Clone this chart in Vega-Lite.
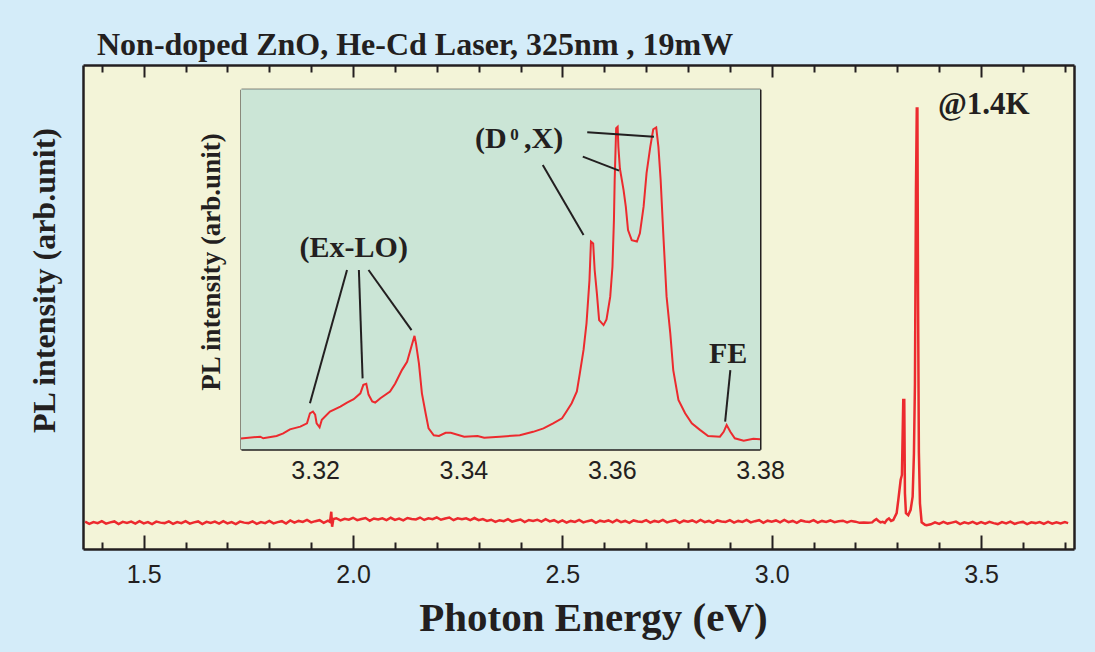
{
  "$schema": "https://vega.github.io/schema/vega-lite/v6.json",
  "width": 991,
  "height": 484,
  "autosize": "none",
  "padding": {"left": 83, "top": 65, "right": 21, "bottom": 103},
  "background": "#d4ecf9",
  "config": {
    "view": {"stroke": null, "fill": "#f3f4d8"},
    "axis": {"grid": false, "zindex": 1, "domainColor": "#231f20", "tickColor": "#231f20", "labelColor": "#231f20", "titleColor": "#231f20", "labelFont": "Liberation Sans", "titleFont": "Liberation Serif", "titleFontWeight": "bold", "labelOverlap": false, "labelFlush": false}
  },
  "title": {"text": "Non-doped ZnO, He-Cd Laser, 325nm , 19mW", "anchor": "start", "frame": "group", "font": "Liberation Serif", "fontSize": 32, "fontWeight": "bold", "color": "#231f20", "baseline": "alphabetic", "offset": -23, "dx": 14},
  "datasets": {
    "main": [
      {"e":1.36,"i":5.65},{"e":1.37,"i":5.2},{"e":1.38,"i":5.55},{"e":1.39,"i":5.35},{"e":1.40,"i":5.75},{"e":1.41,"i":5.25},{"e":1.42,"i":5.5},{"e":1.43,"i":5.7},{"e":1.44,"i":5.15},{"e":1.45,"i":5.6},
      {"e":1.46,"i":5.4},{"e":1.47,"i":5.65},{"e":1.48,"i":5.25},{"e":1.49,"i":5.75},{"e":1.50,"i":5.3},{"e":1.51,"i":5.55},{"e":1.52,"i":5.15},{"e":1.53,"i":5.65},{"e":1.54,"i":5.45},{"e":1.55,"i":5.35},
      {"e":1.56,"i":5.7},{"e":1.57,"i":5.2},{"e":1.58,"i":5.55},{"e":1.59,"i":5.35},{"e":1.60,"i":5.75},{"e":1.61,"i":5.25},{"e":1.62,"i":5.5},{"e":1.63,"i":5.7},{"e":1.64,"i":5.15},{"e":1.65,"i":5.6},
      {"e":1.66,"i":5.4},{"e":1.67,"i":5.65},{"e":1.68,"i":5.25},{"e":1.69,"i":5.75},{"e":1.70,"i":5.3},{"e":1.71,"i":5.55},{"e":1.72,"i":5.15},{"e":1.73,"i":5.65},{"e":1.74,"i":5.45},{"e":1.75,"i":5.35},
      {"e":1.76,"i":5.7},{"e":1.77,"i":5.2},{"e":1.78,"i":5.55},{"e":1.79,"i":5.35},{"e":1.80,"i":5.8},{"e":1.81,"i":5.3},{"e":1.82,"i":5.55},{"e":1.83,"i":5.75},{"e":1.84,"i":5.25},
      {"e":1.85,"i":5.9},{"e":1.86,"i":5.45},{"e":1.87,"i":5.8},{"e":1.88,"i":5.6},{"e":1.89,"i":6.0},{"e":1.90,"i":5.5},{"e":1.91,"i":5.75},{"e":1.92,"i":5.95},{"e":1.93,"i":5.4},{"e":1.94,"i":5.85},
      {"e":1.945,"i":5.6},{"e":1.948,"i":7.7},{"e":1.950,"i":4.6},{"e":1.953,"i":6.2},
      {"e":1.96,"i":6.35},{"e":1.97,"i":5.9},{"e":1.98,"i":6.25},{"e":1.99,"i":6.05},{"e":2.00,"i":6.45},{"e":2.01,"i":5.95},{"e":2.02,"i":6.2},{"e":2.03,"i":6.4},{"e":2.04,"i":5.85},{"e":2.05,"i":6.3},
      {"e":2.06,"i":6.1},{"e":2.07,"i":6.35},{"e":2.08,"i":5.95},{"e":2.09,"i":6.45},{"e":2.10,"i":6.0},{"e":2.11,"i":6.3},{"e":2.12,"i":5.9},{"e":2.13,"i":6.4},{"e":2.14,"i":6.2},{"e":2.15,"i":6.1},
      {"e":2.16,"i":6.5},{"e":2.17,"i":6.0},{"e":2.18,"i":6.35},{"e":2.19,"i":6.15},{"e":2.20,"i":6.55},{"e":2.21,"i":6.05},{"e":2.22,"i":6.3},{"e":2.23,"i":6.5},{"e":2.24,"i":5.95},{"e":2.25,"i":6.35},
      {"e":2.26,"i":6.15},{"e":2.27,"i":6.35},{"e":2.28,"i":5.95},{"e":2.29,"i":6.4},{"e":2.30,"i":5.95},{"e":2.31,"i":6.2},{"e":2.32,"i":5.8},
      {"e":2.33,"i":6.05},{"e":2.34,"i":5.6},{"e":2.35,"i":5.95},{"e":2.36,"i":5.75},{"e":2.37,"i":6.15},{"e":2.38,"i":5.65},{"e":2.39,"i":5.9},{"e":2.40,"i":6.1},{"e":2.41,"i":5.55},{"e":2.42,"i":6.0},
      {"e":2.43,"i":5.8},{"e":2.44,"i":6.05},{"e":2.45,"i":5.65},{"e":2.46,"i":6.15},{"e":2.47,"i":5.7},{"e":2.48,"i":5.95},
      {"e":2.49,"i":5.5},{"e":2.50,"i":5.9},{"e":2.51,"i":5.45},{"e":2.52,"i":5.8},{"e":2.53,"i":5.6},{"e":2.54,"i":6.0},{"e":2.55,"i":5.5},{"e":2.56,"i":5.75},{"e":2.57,"i":5.95},{"e":2.58,"i":5.4},
      {"e":2.59,"i":5.85},{"e":2.60,"i":5.65},{"e":2.61,"i":5.9},{"e":2.62,"i":5.5},{"e":2.63,"i":6.0},{"e":2.64,"i":5.55},{"e":2.65,"i":5.8},{"e":2.66,"i":5.4},{"e":2.67,"i":5.9},{"e":2.68,"i":5.7},
      {"e":2.69,"i":5.6},{"e":2.70,"i":5.95},{"e":2.71,"i":5.45},{"e":2.72,"i":5.8},{"e":2.73,"i":5.6},{"e":2.74,"i":6.0},{"e":2.75,"i":5.5},{"e":2.76,"i":5.75},{"e":2.77,"i":5.95},{"e":2.78,"i":5.4},
      {"e":2.79,"i":5.85},{"e":2.80,"i":5.65},{"e":2.81,"i":5.9},{"e":2.82,"i":5.5},{"e":2.83,"i":6.0},{"e":2.84,"i":5.55},{"e":2.85,"i":5.8},{"e":2.86,"i":5.4},{"e":2.87,"i":5.9},{"e":2.88,"i":5.7},
      {"e":2.89,"i":5.6},{"e":2.90,"i":5.95},{"e":2.91,"i":5.45},{"e":2.92,"i":5.8},{"e":2.93,"i":5.6},{"e":2.94,"i":6.0},{"e":2.95,"i":5.5},{"e":2.96,"i":5.75},{"e":2.97,"i":5.95},{"e":2.98,"i":5.4},
      {"e":2.99,"i":5.85},{"e":3.00,"i":5.65},{"e":3.01,"i":5.9},{"e":3.02,"i":5.5},{"e":3.03,"i":6.0},{"e":3.04,"i":5.55},{"e":3.05,"i":5.8},{"e":3.06,"i":5.4},{"e":3.07,"i":5.9},{"e":3.08,"i":5.7},
      {"e":3.09,"i":5.6},{"e":3.10,"i":5.95},{"e":3.11,"i":5.45},{"e":3.12,"i":5.8},{"e":3.13,"i":5.6},{"e":3.14,"i":5.9},{"e":3.15,"i":5.55},{"e":3.16,"i":5.75},{"e":3.17,"i":5.85},{"e":3.18,"i":5.5},
      {"e":3.19,"i":5.8},{"e":3.20,"i":5.65},
      {"e":3.21,"i":5.4},{"e":3.22,"i":5.45},{"e":3.23,"i":5.4},{"e":3.24,"i":5.5},{"e":3.245,"i":5.9},{"e":3.25,"i":6.2},{"e":3.255,"i":5.8},{"e":3.26,"i":5.5},{"e":3.265,"i":5.6},{"e":3.27,"i":5.4},
      {"e":3.275,"i":6.0},{"e":3.28,"i":6.3},{"e":3.285,"i":5.8},
      {"e":3.2903,"i":6.0},{"e":3.2984,"i":7.4},{"e":3.3023,"i":10.1},{"e":3.308,"i":14.3},{"e":3.311,"i":15.3},{"e":3.3142,"i":30.8},{"e":3.3166,"i":30.8},{"e":3.3182,"i":11.5},{"e":3.3206,"i":7.4},
      {"e":3.3261,"i":7.0},{"e":3.3318,"i":8.1},{"e":3.3366,"i":10.8},{"e":3.3397,"i":19.8},{"e":3.3421,"i":34.2},{"e":3.3445,"i":73.8},{"e":3.3465,"i":91.0},{"e":3.3480,"i":91.0},{"e":3.3495,"i":52.1},
      {"e":3.3515,"i":20.0},{"e":3.3541,"i":9.4},{"e":3.3581,"i":5.5},{"e":3.3661,"i":5.0},{"e":3.37,"i":4.9},
      {"e":3.38,"i":5.1},{"e":3.39,"i":5.5},{"e":3.40,"i":5.2},{"e":3.41,"i":5.6},{"e":3.42,"i":5.25},{"e":3.43,"i":5.45},{"e":3.44,"i":5.65},{"e":3.45,"i":5.15},{"e":3.46,"i":5.5},{"e":3.47,"i":5.3},
      {"e":3.48,"i":5.6},{"e":3.49,"i":5.2},{"e":3.50,"i":5.55},{"e":3.51,"i":5.25},{"e":3.52,"i":5.6},{"e":3.53,"i":5.35},{"e":3.54,"i":5.15},{"e":3.55,"i":5.55},{"e":3.56,"i":5.3},{"e":3.57,"i":5.65},
      {"e":3.58,"i":5.2},{"e":3.59,"i":5.45},{"e":3.60,"i":5.6},{"e":3.61,"i":5.15},{"e":3.62,"i":5.5},{"e":3.63,"i":5.35},{"e":3.64,"i":5.55},{"e":3.65,"i":5.2},{"e":3.66,"i":5.6},{"e":3.67,"i":5.25},
      {"e":3.68,"i":5.5},{"e":3.69,"i":5.3},{"e":3.70,"i":5.55},{"e":3.708,"i":5.35}
    ],
    "inset": [
      {"e":3.3100,"i":3.0},{"e":3.3126,"i":3.5},{"e":3.3130,"i":3.05},{"e":3.3148,"i":3.7},{"e":3.3157,"i":4.4},{"e":3.3166,"i":5.55},{"e":3.3180,"i":6.3},{"e":3.3189,"i":7.2},{"e":3.3193,"i":10.0},{"e":3.3197,"i":10.5},
      {"e":3.3200,"i":9.6},{"e":3.3202,"i":7.2},{"e":3.3206,"i":6.1},{"e":3.3209,"i":8.2},{"e":3.3220,"i":10.5},{"e":3.3234,"i":11.85},{"e":3.3243,"i":12.96},{"e":3.3252,"i":13.9},{"e":3.3261,"i":15.55},{"e":3.3265,"i":17.9},
      {"e":3.3269,"i":18.2},{"e":3.3272,"i":15.2},{"e":3.3277,"i":13.3},{"e":3.3281,"i":13.0},{"e":3.3288,"i":14.2},{"e":3.3301,"i":16.05},{"e":3.3308,"i":18.3},{"e":3.3317,"i":22.0},{"e":3.3324,"i":24.3},{"e":3.3331,"i":29.4},
      {"e":3.3334,"i":31.5},{"e":3.3336,"i":29.4},{"e":3.3340,"i":23.8},{"e":3.3344,"i":15.55},{"e":3.3349,"i":10.0},{"e":3.3353,"i":5.8},{"e":3.3360,"i":3.9},{"e":3.3367,"i":3.7},{"e":3.3376,"i":4.6},{"e":3.3383,"i":4.6},
      {"e":3.3401,"i":3.5},{"e":3.3419,"i":3.7},{"e":3.3428,"i":3.2},{"e":3.3449,"i":3.5},{"e":3.3476,"i":3.9},{"e":3.3494,"i":4.85},{"e":3.3508,"i":5.8},{"e":3.3521,"i":7.2},{"e":3.3533,"i":8.6},{"e":3.3539,"i":10.5},
      {"e":3.3546,"i":12.8},{"e":3.3553,"i":16.1},{"e":3.3557,"i":21.1},{"e":3.3562,"i":27.6},{"e":3.3566,"i":35.0},{"e":3.3570,"i":47.0},{"e":3.3572,"i":57.7},{"e":3.3575,"i":57.2},{"e":3.3577,"i":49.8},{"e":3.3580,"i":43.3},
      {"e":3.3583,"i":35.9},{"e":3.3589,"i":34.5},{"e":3.3593,"i":36.1},{"e":3.3598,"i":42.4},{"e":3.3601,"i":50.7},{"e":3.3603,"i":63.7},{"e":3.3604,"i":74.8},{"e":3.3606,"i":89.2},{"e":3.3608,"i":89.6},{"e":3.3609,"i":84.0},
      {"e":3.3611,"i":78.0},{"e":3.3616,"i":72.0},{"e":3.3619,"i":67.4},{"e":3.3622,"i":60.9},{"e":3.3627,"i":58.1},{"e":3.3634,"i":57.7},{"e":3.3638,"i":60.0},{"e":3.3643,"i":67.4},{"e":3.3647,"i":76.7},{"e":3.3652,"i":84.0},
      {"e":3.3656,"i":88.9},{"e":3.3660,"i":89.4},{"e":3.3663,"i":84.0},{"e":3.3666,"i":74.8},{"e":3.3670,"i":58.1},{"e":3.3674,"i":42.4},{"e":3.3679,"i":32.2},{"e":3.3683,"i":22.0},{"e":3.3690,"i":13.7},{"e":3.3699,"i":10.0},
      {"e":3.3708,"i":7.2},{"e":3.3719,"i":5.4},{"e":3.3730,"i":3.7},{"e":3.3746,"i":3.5},{"e":3.3751,"i":4.85},{"e":3.3755,"i":6.75},{"e":3.3760,"i":4.85},{"e":3.3766,"i":3.05},{"e":3.3778,"i":2.4},{"e":3.3791,"i":2.9},
      {"e":3.3800,"i":2.8}
    ]
  },
  "layer": [
    {
      "data": {"name": "main"},
      "resolve": {"axis": {"x": "independent", "y": "independent"}},
      "layer": [
        {
          "mark": {"type": "line", "color": "#ec2a2e", "strokeWidth": 2.5},
          "encoding": {
            "x": {"field": "e", "type": "quantitative", "scale": {"domain": [1.355, 3.722], "nice": false, "zero": false},
              "axis": {"orient": "bottom", "values": [1.5, 2.0, 2.5, 3.0, 3.5], "format": ".1f", "ticks": false, "labelPadding": 13, "labelFontSize": 25, "domainWidth": 2.5, "title": "Photon Energy (eV)", "titleFontSize": 41, "titleX": 510, "titleY": 81, "titleBaseline": "alphabetic", "titleAlign": "center"}},
            "y": {"field": "i", "type": "quantitative", "scale": {"domain": [0, 100], "nice": false, "zero": false},
              "axis": {"orient": "left", "ticks": false, "labels": false, "domainWidth": 2.5, "title": "PL intensity (arb.unit)", "titleFontSize": 32, "titleX": -39, "titleY": 215, "titleAngle": -90, "titleAlign": "center", "titleBaseline": "middle"}}
          }
        },
        {
          "mark": {"type": "point", "opacity": 0},
          "encoding": {
            "x": {"field": "e", "type": "quantitative", "axis": {"orient": "bottom", "values": [1.5, 2.0, 2.5, 3.0, 3.5], "tickSize": -14, "tickWidth": 2, "labels": false, "domain": false, "title": null}},
            "y": {"field": "i", "type": "quantitative", "axis": {"orient": "right", "ticks": false, "labels": false, "domainWidth": 2.5, "title": null}}
          }
        },
        {
          "mark": {"type": "point", "opacity": 0},
          "encoding": {
            "x": {"field": "e", "type": "quantitative", "axis": {"orient": "bottom", "values": [1.4, 1.6, 1.7, 1.8, 1.9, 2.1, 2.2, 2.3, 2.4, 2.6, 2.7, 2.8, 2.9, 3.1, 3.2, 3.3, 3.4, 3.6, 3.7], "tickSize": -7, "tickWidth": 2, "labels": false, "domain": false, "title": null}},
            "y": {"field": "i", "type": "quantitative", "axis": null}
          }
        },
        {
          "mark": {"type": "point", "opacity": 0},
          "encoding": {
            "x": {"field": "e", "type": "quantitative", "axis": {"orient": "top", "values": [1.5, 2.0, 2.5, 3.0, 3.5], "tickSize": -12, "tickWidth": 2, "labels": false, "domainWidth": 2.5, "title": null}},
            "y": {"field": "i", "type": "quantitative", "axis": null}
          }
        },
        {
          "mark": {"type": "point", "opacity": 0},
          "encoding": {
            "x": {"field": "e", "type": "quantitative", "axis": {"orient": "top", "values": [1.4, 1.6, 1.7, 1.8, 1.9, 2.1, 2.2, 2.3, 2.4, 2.6, 2.7, 2.8, 2.9, 3.1, 3.2, 3.3, 3.4, 3.6, 3.7], "tickSize": -7, "tickWidth": 2, "labels": false, "domain": false, "title": null}},
            "y": {"field": "i", "type": "quantitative", "axis": null}
          }
        },
        {
          "data": {"values": [{}]},
          "mark": {"type": "text", "text": "@1.4K", "font": "Liberation Serif", "fontWeight": "bold", "fontSize": 31, "color": "#231f20", "align": "left", "baseline": "alphabetic"},
          "encoding": {
            "x": {"datum": 3.397, "type": "quantitative", "axis": null},
            "y": {"datum": 89.8, "type": "quantitative", "axis": null}
          }
        }
      ]
    },
    {
      "data": {"name": "inset"},
      "resolve": {"axis": {"x": "independent", "y": "independent"}},
      "layer": [
        {
          "data": {"values": [{}]},
          "mark": {"type": "rect", "color": "#cbe5d6"},
          "encoding": {
            "x": {"datum": 3.31, "type": "quantitative", "axis": null, "scale": {"domain": [3.31, 3.38], "range": [158, 677], "nice": false, "zero": false}},
            "x2": {"datum": 3.38},
            "y": {"datum": 0, "type": "quantitative", "axis": null, "scale": {"domain": [0, 100], "range": [384.3, 24.3], "nice": false, "zero": false}},
            "y2": {"datum": 100}
          }
        },
        {
          "mark": {"type": "line", "color": "#ec2a2e", "strokeWidth": 2},
          "encoding": {
            "x": {"field": "e", "type": "quantitative", "axis": {"orient": "bottom", "offset": -99.7, "values": [3.32, 3.34, 3.36, 3.38], "format": ".2f", "ticks": false, "labelPadding": 9, "labelFontSize": 25, "domainWidth": 2, "title": null}},
            "y": {"field": "i", "type": "quantitative", "axis": {"orient": "left", "offset": -158, "ticks": false, "labels": false, "domainWidth": 2, "title": "PL intensity (arb.unit)", "titleFontSize": 27, "titleX": -30, "titleY": 196.5, "titleAngle": -90, "titleAlign": "center", "titleBaseline": "middle"}}
          }
        },
        {
          "mark": {"type": "point", "opacity": 0},
          "encoding": {
            "x": {"field": "e", "type": "quantitative", "axis": {"orient": "bottom", "offset": -99.7, "values": [3.311,3.312,3.313,3.314,3.315,3.316,3.317,3.318,3.319,3.32,3.321,3.322,3.323,3.324,3.325,3.326,3.327,3.328,3.329,3.33,3.331,3.332,3.333,3.334,3.335,3.336,3.337,3.338,3.339,3.34,3.341,3.342,3.343,3.344,3.345,3.346,3.347,3.348,3.349,3.35,3.351,3.352,3.353,3.354,3.355,3.356,3.357,3.358,3.359,3.36,3.361,3.362,3.363,3.364,3.365,3.366,3.367,3.368,3.369,3.37,3.371,3.372,3.373,3.374,3.375,3.376,3.377,3.378,3.379], "tickSize": -4, "tickWidth": 1.3, "labels": false, "domain": false, "title": null}},
            "y": {"field": "i", "type": "quantitative", "axis": {"orient": "right", "offset": -314, "ticks": false, "labels": false, "domainWidth": 2, "title": null}}
          }
        },
        {
          "mark": {"type": "point", "opacity": 0},
          "encoding": {
            "x": {"field": "e", "type": "quantitative", "axis": {"orient": "bottom", "offset": -99.7, "values": [3.315,3.32,3.325,3.33,3.335,3.34,3.345,3.35,3.355,3.36,3.365,3.37,3.375], "tickSize": -7, "tickWidth": 1.3, "labels": false, "domain": false, "title": null}},
            "y": {"field": "i", "type": "quantitative", "axis": null}
          }
        },
        {
          "mark": {"type": "point", "opacity": 0},
          "encoding": {
            "x": {"field": "e", "type": "quantitative", "axis": {"orient": "top", "offset": -24.3, "values": [3.311,3.312,3.313,3.314,3.315,3.316,3.317,3.318,3.319,3.32,3.321,3.322,3.323,3.324,3.325,3.326,3.327,3.328,3.329,3.33,3.331,3.332,3.333,3.334,3.335,3.336,3.337,3.338,3.339,3.34,3.341,3.342,3.343,3.344,3.345,3.346,3.347,3.348,3.349,3.35,3.351,3.352,3.353,3.354,3.355,3.356,3.357,3.358,3.359,3.36,3.361,3.362,3.363,3.364,3.365,3.366,3.367,3.368,3.369,3.37,3.371,3.372,3.373,3.374,3.375,3.376,3.377,3.378,3.379], "tickSize": -4, "tickWidth": 1.3, "labels": false, "domainWidth": 2, "title": null}},
            "y": {"field": "i", "type": "quantitative", "axis": null}
          }
        },
        {
          "mark": {"type": "point", "opacity": 0},
          "encoding": {
            "x": {"field": "e", "type": "quantitative", "axis": {"orient": "top", "offset": -24.3, "values": [3.315,3.32,3.325,3.33,3.335,3.34,3.345,3.35,3.355,3.36,3.365,3.37,3.375], "tickSize": -7, "tickWidth": 1.3, "labels": false, "domain": false, "title": null}},
            "y": {"field": "i", "type": "quantitative", "axis": null}
          }
        },
        {"data": {"values": [{}]}, "mark": {"type": "rule", "color": "#231f20", "strokeWidth": 2},
          "encoding": {"x": {"datum": 3.3243, "type": "quantitative", "axis": null}, "x2": {"datum": 3.3193}, "y": {"datum": 49.8, "type": "quantitative", "axis": null}, "y2": {"datum": 12.8}}},
        {"data": {"values": [{}]}, "mark": {"type": "rule", "color": "#231f20", "strokeWidth": 2},
          "encoding": {"x": {"datum": 3.3259, "type": "quantitative", "axis": null}, "x2": {"datum": 3.3264}, "y": {"datum": 49.8, "type": "quantitative", "axis": null}, "y2": {"datum": 19.7}}},
        {"data": {"values": [{}]}, "mark": {"type": "rule", "color": "#231f20", "strokeWidth": 2},
          "encoding": {"x": {"datum": 3.3272, "type": "quantitative", "axis": null}, "x2": {"datum": 3.3330}, "y": {"datum": 49.8, "type": "quantitative", "axis": null}, "y2": {"datum": 33.1}}},
        {"data": {"values": [{}]}, "mark": {"type": "rule", "color": "#231f20", "strokeWidth": 2},
          "encoding": {"x": {"datum": 3.3507, "type": "quantitative", "axis": null}, "x2": {"datum": 3.3562}, "y": {"datum": 79.0, "type": "quantitative", "axis": null}, "y2": {"datum": 59.5}}},
        {"data": {"values": [{}]}, "mark": {"type": "rule", "color": "#231f20", "strokeWidth": 2},
          "encoding": {"x": {"datum": 3.3561, "type": "quantitative", "axis": null}, "x2": {"datum": 3.3610}, "y": {"datum": 81.3, "type": "quantitative", "axis": null}, "y2": {"datum": 77.4}}},
        {"data": {"values": [{}]}, "mark": {"type": "rule", "color": "#231f20", "strokeWidth": 2},
          "encoding": {"x": {"datum": 3.3567, "type": "quantitative", "axis": null}, "x2": {"datum": 3.3657}, "y": {"datum": 88.1, "type": "quantitative", "axis": null}, "y2": {"datum": 86.8}}},
        {"data": {"values": [{}]}, "mark": {"type": "rule", "color": "#231f20", "strokeWidth": 2},
          "encoding": {"x": {"datum": 3.3760, "type": "quantitative", "axis": null}, "x2": {"datum": 3.3753}, "y": {"datum": 22.0, "type": "quantitative", "axis": null}, "y2": {"datum": 7.7}}},
        {"data": {"values": [{}]}, "mark": {"type": "text", "text": "(Ex-LO)", "font": "Liberation Serif", "fontWeight": "bold", "fontSize": 30, "color": "#231f20", "align": "center", "baseline": "alphabetic"},
          "encoding": {"x": {"datum": 3.3252, "type": "quantitative", "axis": null}, "y": {"datum": 53.3, "type": "quantitative", "axis": null}}},
        {"data": {"values": [{}]}, "mark": {"type": "text", "text": "(D", "font": "Liberation Serif", "fontWeight": "bold", "fontSize": 30, "color": "#231f20", "align": "left", "baseline": "alphabetic"},
          "encoding": {"x": {"datum": 3.34156, "type": "quantitative", "axis": null}, "y": {"datum": 83.7, "type": "quantitative", "axis": null}}},
        {"data": {"values": [{}]}, "mark": {"type": "text", "text": "0", "font": "Liberation Serif", "fontWeight": "bold", "fontSize": 17, "color": "#231f20", "align": "left", "baseline": "alphabetic"},
          "encoding": {"x": {"datum": 3.3463, "type": "quantitative", "axis": null}, "y": {"datum": 85.9, "type": "quantitative", "axis": null}}},
        {"data": {"values": [{}]}, "mark": {"type": "text", "text": ",X)", "font": "Liberation Serif", "fontWeight": "bold", "fontSize": 30, "color": "#231f20", "align": "left", "baseline": "alphabetic"},
          "encoding": {"x": {"datum": 3.34818, "type": "quantitative", "axis": null}, "y": {"datum": 83.7, "type": "quantitative", "axis": null}}},
        {"data": {"values": [{}]}, "mark": {"type": "text", "text": "FE", "font": "Liberation Serif", "fontWeight": "bold", "fontSize": 30, "color": "#231f20", "align": "center", "baseline": "alphabetic"},
          "encoding": {"x": {"datum": 3.3757, "type": "quantitative", "axis": null}, "y": {"datum": 24.0, "type": "quantitative", "axis": null}}}
      ]
    }
  ],
  "resolve": {"scale": {"x": "independent", "y": "independent"}}
}
